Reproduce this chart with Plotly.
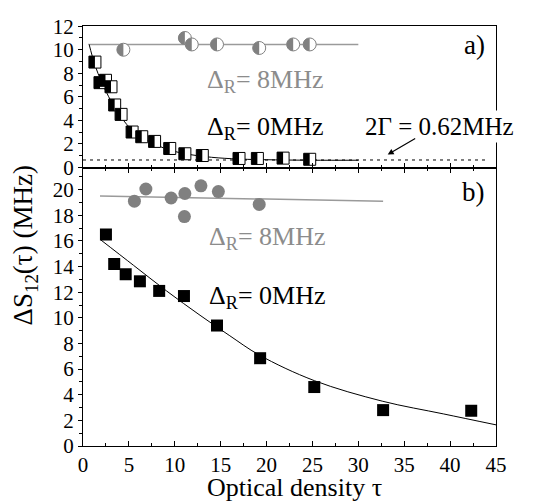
import plotly.graph_objects as go

# ---------------- data ----------------
# panel a)
sq_a_x = [1.3, 1.85, 2.45, 3.05, 3.45, 4.15, 5.35, 6.4, 7.8, 9.45, 11.1, 13.0, 17.0, 19.0, 21.8, 24.7]
sq_a_y = [8.95, 7.2, 7.4, 6.85, 5.3, 4.5, 3.0, 2.6, 2.2, 1.6, 1.15, 1.0, 0.75, 0.75, 0.78, 0.68]
circ_a_x = [4.4, 11.1, 11.85, 14.6, 19.2, 22.9, 24.7]
circ_a_y = [10.0, 11.0, 10.45, 10.45, 10.15, 10.45, 10.45]
fit_a_x = [0.65, 1.3, 2.0, 2.8, 3.5, 4.3, 5.3, 6.5, 8.0, 9.5, 11.5, 14.0, 17.0, 21.0, 25.0, 30.0]
fit_a_y = [10.5, 8.7, 7.3, 6.0, 5.0, 4.1, 3.2, 2.5, 1.9, 1.45, 1.1, 0.85, 0.7, 0.63, 0.6, 0.6]
gray_a_x = [0.75, 30.0]
gray_a_y = [10.45, 10.45]
gamma_x = [0.0, 44.2]
gamma_y = [0.62, 0.62]

# panel b)
circ_b_x = [5.6, 6.85, 9.6, 11.1, 11.05, 12.85, 14.75, 19.2]
circ_b_y = [19.1, 20.05, 19.35, 19.7, 17.9, 20.3, 19.85, 18.85]
sq_b_x = [2.5, 3.4, 4.65, 6.2, 8.3, 11.0, 14.6, 19.3, 25.2, 32.7, 42.3]
sq_b_y = [16.5, 14.2, 13.4, 12.85, 12.1, 11.7, 9.4, 6.85, 4.6, 2.8, 2.75]
fit_b_x = [1.9, 5.5, 9.1, 12.75, 16.0, 19.2, 25.2, 32.6, 39.3, 45.0]
fit_b_y = [16.1, 14.1, 12.1, 10.2, 8.6, 7.1, 5.1, 3.5, 2.5, 1.65]
gray_b_x = [1.85, 32.7]
gray_b_y = [19.5, 19.1]

x_ticks = [0, 5, 10, 15, 20, 25, 30, 35, 40, 45]
ya_ticks = [0, 2, 4, 6, 8, 10, 12]
yb_ticks = [0, 2, 4, 6, 8, 10, 12, 14, 16, 18, 20]

# ---------------- styling ----------------
FONT = "Liberation Serif, Times New Roman, DejaVu Serif, serif"
GRAY = "#808080"
GRAY_LINE = "#9a9a9a"
GRAY_TEXT = "#8c8c8c"

fig = go.Figure()

# panel a traces
fig.add_trace(go.Scatter(x=gamma_x, y=gamma_y, xaxis="x2", yaxis="y2", mode="lines",
                         line=dict(color="black", width=1, dash="3px,4px")))
fig.add_trace(go.Scatter(x=gray_a_x, y=gray_a_y, xaxis="x2", yaxis="y2", mode="lines",
                         line=dict(color=GRAY_LINE, width=1.5)))
fig.add_trace(go.Scatter(x=fit_a_x, y=fit_a_y, xaxis="x2", yaxis="y2", mode="lines",
                         line=dict(color="black", width=1, shape="spline")))
fig.add_trace(go.Scatter(x=circ_a_x, y=circ_a_y, xaxis="x2", yaxis="y2", mode="markers",
                         marker=dict(symbol="circle", size=13, color="white",
                                     line=dict(color=GRAY, width=1))))
fig.add_trace(go.Scatter(x=sq_a_x, y=sq_a_y, xaxis="x2", yaxis="y2", mode="markers",
                         marker=dict(symbol="square", size=12, color="white",
                                     line=dict(color="black", width=1))))

# panel b traces
fig.add_trace(go.Scatter(x=gray_b_x, y=gray_b_y, xaxis="x", yaxis="y", mode="lines",
                         line=dict(color=GRAY_LINE, width=1.5)))
fig.add_trace(go.Scatter(x=fit_b_x, y=fit_b_y, xaxis="x", yaxis="y", mode="lines",
                         line=dict(color="black", width=1, shape="spline")))
fig.add_trace(go.Scatter(x=circ_b_x, y=circ_b_y, xaxis="x", yaxis="y", mode="markers",
                         marker=dict(symbol="circle", size=13, color=GRAY,
                                     line=dict(color=GRAY, width=0))))
fig.add_trace(go.Scatter(x=sq_b_x, y=sq_b_y, xaxis="x", yaxis="y", mode="markers",
                         marker=dict(symbol="square", size=12, color="black",
                                     line=dict(color="black", width=0))))

# half-filled marker overlays (left half filled), anchored at the data points
shapes = []
r_sq = 6
for xv, yv in zip(sq_a_x, sq_a_y):
    shapes.append(dict(type="path", xref="x2", yref="y2", xsizemode="pixel", ysizemode="pixel",
                       xanchor=xv, yanchor=yv,
                       path=f"M {-r_sq},{-r_sq} L 0,{-r_sq} L 0,{r_sq} L {-r_sq},{r_sq} Z",
                       fillcolor="black", line=dict(width=0)))
r_c = 6.5
k = 0.5523 * r_c
for xv, yv in zip(circ_a_x, circ_a_y):
    shapes.append(dict(type="path", xref="x2", yref="y2", xsizemode="pixel", ysizemode="pixel",
                       xanchor=xv, yanchor=yv,
                       path=(f"M 0,{r_c} C {-k},{r_c} {-r_c},{k} {-r_c},0 "
                             f"C {-r_c},{-k} {-k},{-r_c} 0,{-r_c} Z"),
                       fillcolor=GRAY, line=dict(width=0)))

tickfont = dict(family=FONT, size=21, color="black")
common_x = dict(range=[0, 45], showgrid=False, zeroline=False, showline=True, linecolor="black",
                linewidth=1, ticks="inside", ticklen=5, tickcolor="black",
                tickvals=x_ticks, minor=dict(dtick=2.5, tick0=0, ticks="inside", ticklen=3,
                                             tickcolor="black"))

ann_font = dict(family=FONT, size=26, color="black")
gray_font = dict(family=FONT, size=26, color=GRAY_TEXT)
annotations = [
    dict(text="Δ<sub>R</sub>= 8MHz", x=13.3, y=7.35, xref="x2", yref="y2", xanchor="left",
         yanchor="middle", showarrow=False, font=gray_font),
    dict(text="Δ<sub>R</sub>= 0MHz", x=13.3, y=3.3, xref="x2", yref="y2", xanchor="left",
         yanchor="middle", showarrow=False, font=ann_font),
    dict(text="2Γ = 0.62MHz", x=30.4, y=3.45, xref="x2", yref="y2", xanchor="left",
         yanchor="middle", showarrow=False, font=dict(family=FONT, size=25, color="black"),
         bgcolor="white", borderpad=2),
    dict(text="", x=33.2, y=1.08, xref="x2", yref="y2", ax=29, ay=-17, showarrow=True,
         arrowhead=2, arrowsize=1, arrowwidth=1.2, arrowcolor="black"),
    dict(text="a)", x=42.7, y=10.4, xref="x2", yref="y2", xanchor="center", yanchor="middle",
         showarrow=False, font=dict(family=FONT, size=27, color="black")),
    dict(text="Δ<sub>R</sub>= 8MHz", x=13.5, y=16.2, xref="x", yref="y", xanchor="left",
         yanchor="middle", showarrow=False, font=gray_font),
    dict(text="Δ<sub>R</sub>= 0MHz", x=13.5, y=11.6, xref="x", yref="y", xanchor="left",
         yanchor="middle", showarrow=False, font=ann_font),
    dict(text="b)", x=42.5, y=19.8, xref="x", yref="y", xanchor="center", yanchor="middle",
         showarrow=False, font=dict(family=FONT, size=27, color="black")),
    dict(text="ΔS<sub>12</sub>(τ) (MHz)", x=-0.14, y=0.478, xref="paper", yref="paper",
         textangle=-90, xanchor="center", yanchor="middle", showarrow=False,
         font=dict(family=FONT, size=27, color="black")),
    dict(text="Optical density τ", x=0.513, y=-0.099, xref="paper", yref="paper",
         xanchor="center", yanchor="middle", showarrow=False,
         font=dict(family=FONT, size=26, color="black")),
]

split = 0.6613
fig.update_layout(
    width=533, height=503,
    margin=dict(l=75, r=45, t=7, b=65),
    paper_bgcolor="white", plot_bgcolor="white",
    showlegend=False,
    font=dict(family=FONT, color="black"),
    xaxis=dict(**common_x, anchor="y", mirror="ticks", tickfont=tickfont, showticklabels=True),
    xaxis2=dict(**common_x, anchor="y2", matches="x", mirror=True, showticklabels=False),
    yaxis=dict(domain=[0, split], range=[0, 21.67], showgrid=False, zeroline=False,
               showline=True, linecolor="black", linewidth=1, mirror=True,
               ticks="outside", ticklen=4, tickcolor="black", tickvals=yb_ticks,
               minor=dict(dtick=1, tick0=0, ticks="outside", ticklen=3, tickcolor="black"),
               tickfont=tickfont, anchor="x"),
    yaxis2=dict(domain=[split, 1], range=[-0.083, 12.02], showgrid=False, zeroline=False,
                showline=True, linecolor="black", linewidth=1, mirror=True,
                ticks="outside", ticklen=4, tickcolor="black", tickvals=ya_ticks,
                minor=dict(dtick=1, tick0=0, ticks="outside", ticklen=3, tickcolor="black"),
                tickfont=tickfont, anchor="x2", ticklabeloverflow="allow"),
    shapes=shapes,
    annotations=annotations,
)

fig.write_html("out.html")
